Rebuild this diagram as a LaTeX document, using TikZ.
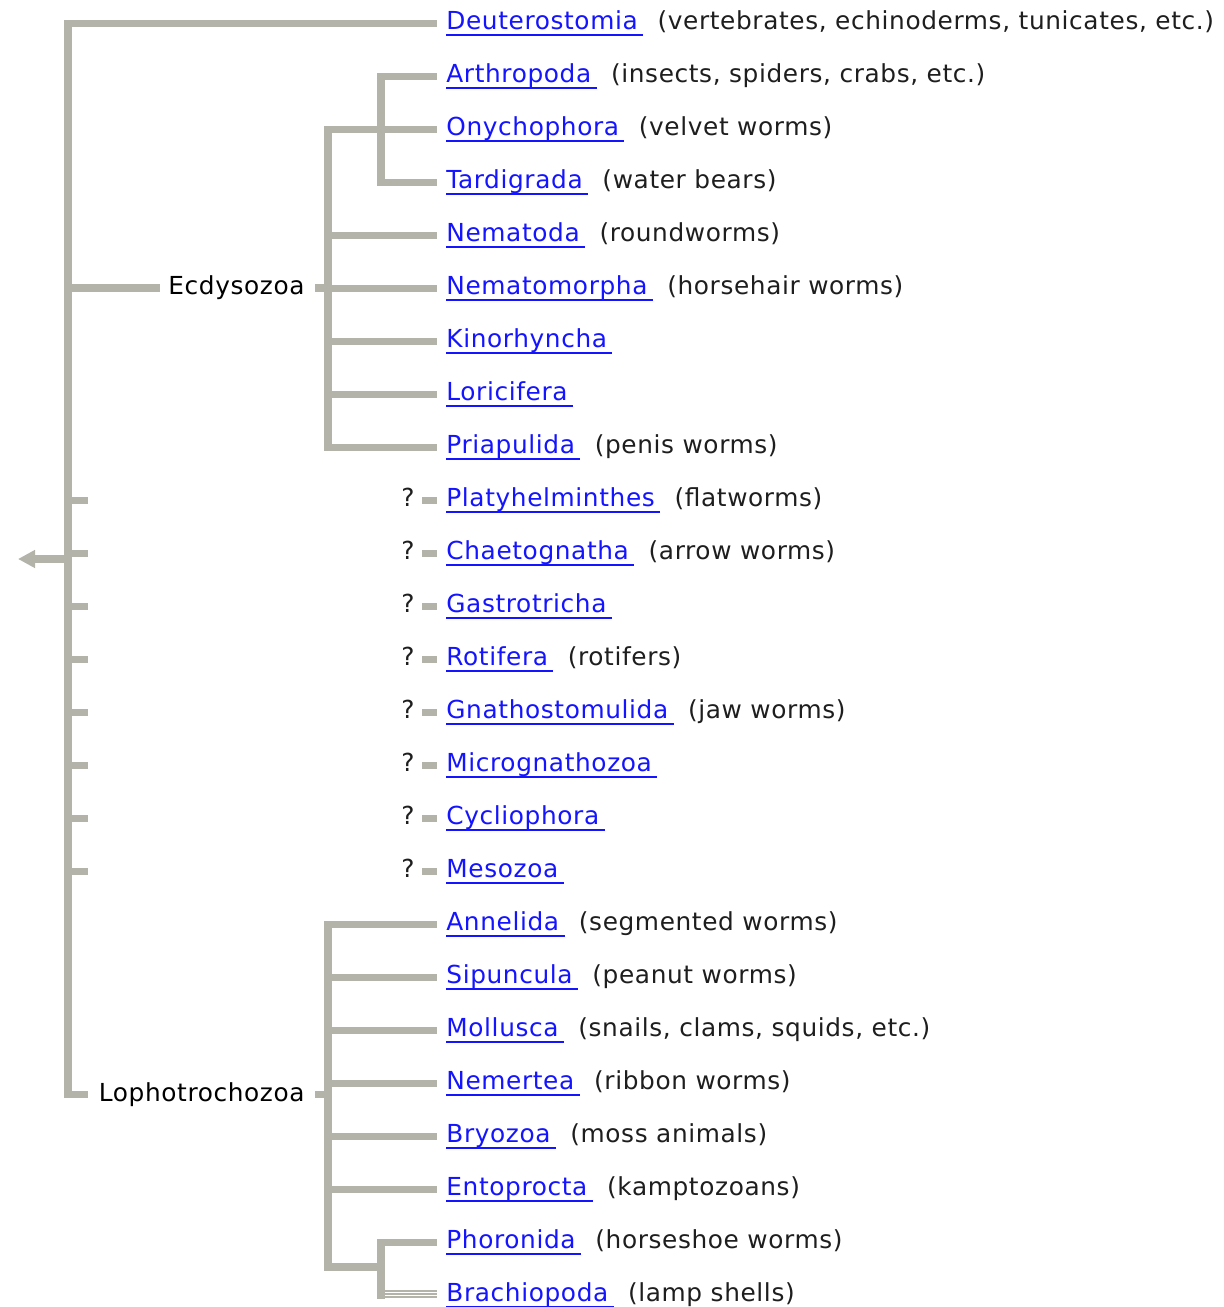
\documentclass[tikz,border=0pt]{standalone}
\usepackage{fontspec}
\setmainfont{DejaVu Sans}[LetterSpace=2.5]
\usepackage{xcolor}
\usepackage{tikz}
\usetikzlibrary{arrows.meta,positioning}
\definecolor{branchgray}{RGB}{179,179,170}
\definecolor{linkblue}{RGB}{20,20,255}
\definecolor{notegray}{RGB}{30,30,30}
\tikzset {
	branch/.style={draw=branchgray, line width=3.75pt},
	thinbranch/.style={draw=branchgray, line width=0.6pt},
	taxon/.style={inner sep=0pt, anchor=base west, text=linkblue, font=\fontsize{12.4}{15}\selectfont},
	uline/.style={draw=linkblue, line width=0.9pt},
	note/.style={inner sep=0pt, text=notegray, font=\fontsize{12.4}{15}\selectfont},
	clade/.style={inner sep=0pt, anchor=east, text=black, font=\fontsize{12.4}{15}\selectfont},
	unsure/.style={inner sep=0pt, anchor=base east, text=notegray, font=\fontsize{12.4}{15}\selectfont}
}
\begin{document}
\begin{tikzpicture}[x=0.5pt, y=-0.5pt]
					\useasboundingbox (0,0) rectangle (1224,1307);
					\foreach \tx/\ds [count=\i from 0] in {
						Deuterostomia/{(vertebrates, echinoderms, tunicates, etc.)},
						Arthropoda/{(insects, spiders, crabs, etc.)},
						Onychophora/{(velvet worms)},
						Tardigrada/{(water bears)},
						Nematoda/{(roundworms)},
						Nematomorpha/{(horsehair worms)},
						Kinorhyncha/{},
						Loricifera/{},
						Priapulida/{(penis worms)},
						Platyhelminthes/{(flatworms)},
						Chaetognatha/{(arrow worms)},
						Gastrotricha/{},
						Rotifera/{(rotifers)},
						Gnathostomulida/{(jaw worms)},
						Micrognathozoa/{},
						Cycliophora/{},
						Mesozoa/{},
						Annelida/{(segmented worms)},
						Sipuncula/{(peanut worms)},
						Mollusca/{(snails, clams, squids, etc.)},
						Nemertea/{(ribbon worms)},
						Bryozoa/{(moss animals)},
						Entoprocta/{(kamptozoans)},
						Phoronida/{(horseshoe worms)},
						Brachiopoda/{(lamp shells)}} {
						\node [taxon] (t\i) at (446,{29.5+53*\i}) {\tx};
						\draw [uline] ([yshift=-2.75pt]t\i.base west) -- ([yshift=-2.75pt, xshift=2.5pt]t\i.base east);
						\node [note, right=9.5pt of t\i.base east, anchor=base west] (n\i) {\ds};
						\coordinate (e\i) at (437,{23.5+53*\i});
					}
					% trunk and root
					\coordinate (root) at (68,559);
					\coordinate (tip) at (18,559);
					\coordinate (lophj) at (68,1094.5);
					\coordinate (lophs) at (88,1094.5);
					\draw [branch] (e0) -| (lophj) -- (lophs);
					\draw [branch, -{Triangle[length=8.5pt, width=8.5pt]}] (root) -- (tip);
					% Ecdysozoa
					\node [clade] (ecdy) at (305,288) {Ecdysozoa};
					\coordinate (ecdyv) at (328,288);
					\coordinate (arthv) at (381,129.5);
					\draw [branch] (root |- ecdy) -- ([xshift=-4pt]ecdy.west);
					\draw [branch] ([xshift=5pt]ecdy.east) -- (ecdyv);
					\draw [branch] (e2) -| (ecdyv) |- (e8);
					\foreach \k in {4,...,7}
						\draw [branch] (ecdyv |- e\k) -- (e\k);
					\draw [branch] (e1) -| (arthv) |- (e3);
					% uncertain placement
					\foreach \k in {9,...,16} {
						\draw [branch] (root |- e\k) -- ++(20,0);
						\draw [branch] (e\k) -- ++(-15,0);
						\node [unsure] (q\k) at (415,{29.5+53*\k}) {?};
					}
					% Lophotrochozoa
					\node [clade] (loph) at (305,1094.5) {Lophotrochozoa};
					\coordinate (lophv) at (328,1094.5);
					\coordinate (brachj) at (381,1267);
					\coordinate (brachb) at (381,1298.5);
					\draw [branch] ([xshift=5pt]loph.east) -- (lophv);
					\draw [branch] (e17) -| (lophv) |- (brachj);
					\foreach \k in {18,...,22}
						\draw [branch] (lophv |- e\k) -- (e\k);
					\draw [branch] (e23) -| (brachb);
					\foreach \dy in {-4.5,-1.5,1.5}
						\draw [thinbranch] ([yshift=-\dy*0.5pt]brachb |- e24) -- ([yshift=-\dy*0.5pt]e24);
					\end{tikzpicture}
\end{document}
